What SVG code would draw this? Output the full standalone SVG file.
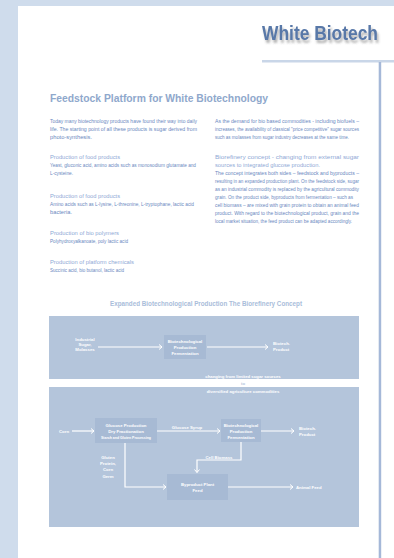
<svg xmlns="http://www.w3.org/2000/svg" width="394" height="558" viewBox="0 0 394 558">
<style>
.body{font-family:"Liberation Sans",Arial,sans-serif;font-size:5.6px;fill:#6a88c0}
.sub{font-family:"Liberation Sans",Arial,sans-serif;font-size:5.6px;fill:#8fa9d6}
.dg{font-family:"Liberation Sans",Arial,sans-serif;font-size:4.3px;font-weight:bold;fill:#ffffff;text-anchor:middle}
.dgl{font-family:"Liberation Sans",Arial,sans-serif;font-size:4.3px;font-weight:bold;fill:#ffffff}
.panel{fill:#b4c5db}
.proc{fill:#a7bad4}
.conn{stroke:#ffffff;stroke-width:1.2;fill:none}
</style>
<defs>
<marker id="arr" markerWidth="6" markerHeight="6" refX="4" refY="3" orient="auto" markerUnits="userSpaceOnUse">
<path d="M1,0.5 L4,3 L1,5.5" fill="none" stroke="#ffffff" stroke-width="1"/>
</marker>
<filter id="shadow" x="-10%" y="-30%" width="130%" height="190%">
<feDropShadow dx="1.5" dy="3" stdDeviation="1.3" flood-color="#555555" flood-opacity="0.45"/>
</filter>
</defs>
<rect x="0" y="0" width="394" height="558" fill="#cfdcec"/>
<rect x="18" y="6" width="376" height="552" fill="#ffffff"/>
<g id="header">
<text x="262" y="40" font-family="Liberation Sans,Arial,sans-serif" font-size="20" font-weight="bold" fill="#5878a8" textLength="116" lengthAdjust="spacingAndGlyphs" filter="url(#shadow)">White Biotech</text>
<rect x="262" y="60" width="132" height="2.5" fill="#c9d6e8"/>
<rect x="378.7" y="62" width="2.5" height="496" fill="#a5b8d8"/>
</g>
<text x="50" y="102" font-family="Liberation Sans,Arial,sans-serif" font-size="11" font-weight="bold" fill="#8fa8cc" textLength="218" lengthAdjust="spacingAndGlyphs">Feedstock Platform for White Biotechnology</text>
<g id="left-column">
<text class="body" x="50" y="123" textLength="147" lengthAdjust="spacingAndGlyphs">Today many biotechnology products have found their way into daily</text>
<text class="body" x="50" y="131" textLength="147" lengthAdjust="spacingAndGlyphs">life. The starting point of all these products is sugar derived from</text>
<text class="body" x="50" y="139" textLength="42" lengthAdjust="spacingAndGlyphs">photo-synthesis.</text>
<text class="sub" x="50" y="159" textLength="70" lengthAdjust="spacingAndGlyphs">Production of food products</text>
<text class="body" x="50" y="167" textLength="146" lengthAdjust="spacingAndGlyphs">Yeast, gluconic acid, amino acids such as monosodium glutamate and</text>
<text class="body" x="50" y="175" textLength="23" lengthAdjust="spacingAndGlyphs">L-cysteine.</text>
<text class="sub" x="50" y="198" textLength="70" lengthAdjust="spacingAndGlyphs">Production of food products</text>
<text class="body" x="50" y="206" textLength="144" lengthAdjust="spacingAndGlyphs">Amino acids such as L-lysine, L-threonine, L-tryptophane, lactic acid</text>
<text class="body" x="50" y="214" textLength="22" lengthAdjust="spacingAndGlyphs">bacteria.</text>
<text class="sub" x="50" y="235" textLength="69" lengthAdjust="spacingAndGlyphs">Production of bio polymers</text>
<text class="body" x="50" y="243" textLength="78" lengthAdjust="spacingAndGlyphs">Polyhydroxyalkanoate, poly lactic acid</text>
<text class="sub" x="50" y="264" textLength="84" lengthAdjust="spacingAndGlyphs">Production of platform chemicals</text>
<text class="body" x="50" y="272" textLength="74" lengthAdjust="spacingAndGlyphs">Succinic acid, bio butanol, lactic acid</text>
</g>
<g id="right-column">
<text class="body" x="215" y="123" textLength="144" lengthAdjust="spacingAndGlyphs">As the demand for bio based commodities - including biofuels –</text>
<text class="body" x="215" y="131" textLength="144" lengthAdjust="spacingAndGlyphs">increases, the availability of classical "price competitive" sugar sources</text>
<text class="body" x="215" y="139" textLength="134" lengthAdjust="spacingAndGlyphs">such as molasses from sugar industry decreases at the same time.</text>
<text class="sub" x="215" y="159" textLength="144" lengthAdjust="spacingAndGlyphs">Biorefinery concept - changing from external sugar</text>
<text class="sub" x="215" y="167" textLength="105" lengthAdjust="spacingAndGlyphs">sources to integrated glucose production.</text>
<text class="body" x="215" y="175" textLength="144" lengthAdjust="spacingAndGlyphs">The concept integrates both sides – feedstock and byproducts –</text>
<text class="body" x="215" y="183" textLength="144" lengthAdjust="spacingAndGlyphs">resulting in an expanded production plant. On the feedstock side, sugar</text>
<text class="body" x="215" y="191" textLength="144" lengthAdjust="spacingAndGlyphs">as an industrial commodity is replaced by the agricultural commodity</text>
<text class="body" x="215" y="199" textLength="138" lengthAdjust="spacingAndGlyphs">grain. On the product side, byproducts from fermentation – such as</text>
<text class="body" x="215" y="207" textLength="144" lengthAdjust="spacingAndGlyphs">cell biomass – are mixed with grain protein to obtain an animal feed</text>
<text class="body" x="215" y="215" textLength="144" lengthAdjust="spacingAndGlyphs">product. With regard to the biotechnological product, grain and the</text>
<text class="body" x="215" y="223" textLength="137" lengthAdjust="spacingAndGlyphs">local market situation, the feed product can be adapted accordingly.</text>
</g>
<text x="206" y="306" font-family="Liberation Sans,Arial,sans-serif" font-size="7" font-weight="bold" fill="#a9bdda" text-anchor="middle" textLength="192" lengthAdjust="spacingAndGlyphs">Expanded Biotechnological Production  The Biorefinery Concept</text>
<g id="panel-top"><rect class="panel" x="49" y="316" width="310" height="63"/></g>
<g id="panel-bottom"><rect class="panel" x="49" y="387" width="310" height="140"/></g>
<g id="industrial-sugar">
<text class="dg" x="85" y="340.5">Industrial</text>
<text class="dg" x="85" y="345.5">Sugar,</text>
<text class="dg" x="85" y="350.5">Molasses</text>
</g>
<g id="fermentation-1">
<rect class="proc" x="164" y="335" width="42" height="24"/>
<text class="dg" x="185" y="342.5">Biotechnological</text>
<text class="dg" x="185" y="348.5">Production</text>
<text class="dg" x="185" y="355">Fermentation</text>
</g>
<g id="product-1">
<text class="dgl" x="273" y="344.5">Biotech.</text>
<text class="dgl" x="273" y="351">Product</text>
</g>
<g id="transition">
<text class="dg" x="243" y="377.5">changing from limited sugar sources</text>
<text class="dg" x="243" y="384.5" style="fill:#b4c5db">to</text>
<text class="dg" x="243" y="392.5">diversified agriculture commodities</text>
</g>
<g id="corn"><text class="dgl" x="59" y="432.5">Corn</text></g>
<g id="glucose-production">
<rect class="proc" x="95" y="418" width="62" height="25"/>
<text class="dg" x="126" y="426.5">Glucose Production</text>
<text class="dg" x="126" y="432.5">Dry Fractionation</text>
<text class="dg" x="126" y="439" style="font-size:3.5px">Starch and Gluten Processing</text>
</g>
<g id="fermentation-2">
<rect class="proc" x="221" y="419" width="40" height="23"/>
<text class="dg" x="241" y="426.5">Biotechnological</text>
<text class="dg" x="241" y="432.5">Production</text>
<text class="dg" x="241" y="439">Fermentation</text>
</g>
<g id="product-2">
<text class="dgl" x="299" y="429.5">Biotech.</text>
<text class="dgl" x="299" y="435.5">Product</text>
</g>
<g id="byproduct-feed">
<rect class="proc" x="167" y="474" width="61" height="26"/>
<text class="dg" x="197.5" y="485.5">Byproduct Plant</text>
<text class="dg" x="197.5" y="491.5">Feed</text>
</g>
<g id="animal-feed"><text class="dgl" x="296" y="488.5">Animal Feed</text></g>
<g id="connectors">
<line class="conn" x1="98" y1="347" x2="162" y2="347" marker-end="url(#arr)"/>
<line class="conn" x1="207" y1="347" x2="268" y2="347" marker-end="url(#arr)"/>
<line class="conn" x1="72" y1="431" x2="94" y2="431" marker-end="url(#arr)"/>
<line class="conn" x1="157" y1="431" x2="220" y2="431" marker-end="url(#arr)"/>
<line class="conn" x1="261" y1="431" x2="294" y2="431" marker-end="url(#arr)"/>
<polyline class="conn" points="241,442 241,460 197,460 197,472.5" marker-end="url(#arr)"/>
<polyline class="conn" points="125,443 125,487 166,487" marker-end="url(#arr)"/>
<line class="conn" x1="228" y1="487" x2="293" y2="487" marker-end="url(#arr)"/>
<text class="dg" x="187" y="428.5">Glucose Syrup</text>
<text class="dg" x="219" y="458.5">Cell Biomass</text>
<text class="dg" x="108" y="458.5">Gluten</text>
<text class="dg" x="108" y="464.5">Protein,</text>
<text class="dg" x="108" y="471">Corn</text>
<text class="dg" x="108" y="477.5">Germ</text>
</g>
</svg>
